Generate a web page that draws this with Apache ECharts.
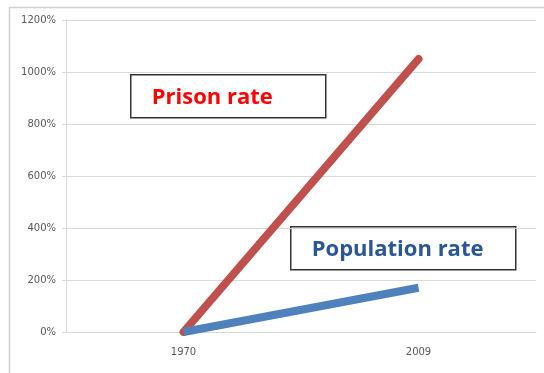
<!DOCTYPE html>
<html>
<head>
<meta charset="utf-8">
<script src="https://cdn.jsdelivr.net/npm/echarts@6/dist/echarts.min.js"></script>
<style>
  html, body { margin: 0; padding: 0; background: #fff; }
  #chart { width: 544px; height: 373px; }
</style>
</head>
<body>
<div id="chart"></div>
<script>
// data
const years = ["1970", "2009"];
const prisonRate = [0, 1050];
const populationRate = [0, 170];
const yTicks = [0, 200, 400, 600, 800, 1000, 1200];

const chart = echarts.init(document.getElementById("chart"));

// boxed labels like the original slide
function labelBox(x, y, w, h, text, color) {
  return {
    type: "group",
    left: x,
    top: y,
    children: [
      {
        type: "rect",
        shape: { x: 0, y: 0, width: w, height: h },
        style: { fill: "#fff", stroke: "#333", lineWidth: 1.5 },
      },
      {
        type: "text",
        x: 21,
        y: h / 2 + 1,
        style: {
          text: text,
          fill: color,
          font: "bold 22px 'Open Sans'",
          verticalAlign: "middle",
        },
      },
    ],
  };
}

chart.setOption({
  backgroundColor: "#fff",
  animation: false,
  grid: { left: 66, right: 8, top: 20, bottom: 41 },
  xAxis: {
    type: "category",
    data: years,
    boundaryGap: true,
    axisLine: { lineStyle: { color: "#d9d9d9", width: 1 } },
    axisTick: { show: false },
    axisLabel: { color: "#595959", fontSize: 10, fontFamily: "DejaVu Sans", margin: 15 },
  },
  yAxis: {
    type: "value",
    min: yTicks[0],
    max: yTicks[yTicks.length - 1],
    interval: 200,
    axisLine: { show: true, lineStyle: { color: "#d9d9d9" } },
    axisTick: { show: true, length: 4, lineStyle: { color: "#d9d9d9" } },
    splitLine: { lineStyle: { color: "#d9d9d9" } },
    axisLabel: {
      color: "#595959",
      fontSize: 10,
      fontFamily: "DejaVu Sans",
      margin: 10,
      formatter: (v) => v + "%",
    },
  },
  series: [
    {
      name: "Prison rate",
      type: "line",
      data: prisonRate,
      symbol: "none",
      lineStyle: { color: "#c0504d", width: 8, cap: "round" },
    },
    {
      name: "Population rate",
      type: "line",
      data: populationRate,
      symbol: "none",
      lineStyle: { color: "#4f81bd", width: 8, cap: "butt" },
    },
  ],
  graphic: [
    {
      type: "rect",
      left: 7,
      top: 5,
      shape: { x: 0, y: 0, width: 560, height: 400 },
      style: { fill: "none", stroke: "#d0d0d0", lineWidth: 1.5 },
      silent: true,
    },
    labelBox(130, 74, 195, 43, "Prison rate", "#ff0000"),
    labelBox(290, 226, 225, 43, "Population rate", "#2a5597"),
  ],
});
</script>
</body>
</html>
